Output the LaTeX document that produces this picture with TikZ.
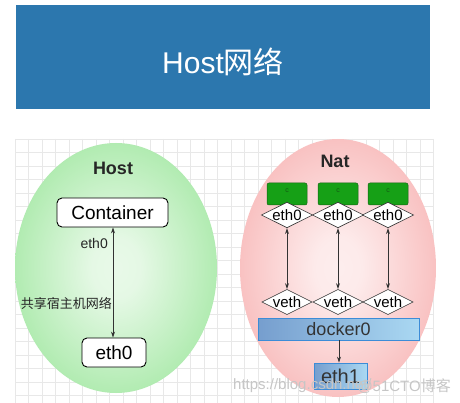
\documentclass[tikz,border=0pt]{standalone}
\usepackage{fontspec}
\setmainfont{Liberation Sans}
\newfontfamily\cjk{Noto Sans CJK SC}
\usetikzlibrary{arrows.meta,shapes.geometric}
\definecolor{bannerblue}{RGB}{44,119,174}
\definecolor{gridc}{RGB}{232,232,232}
\definecolor{gedge}{RGB}{132,222,132}
\definecolor{gmid}{RGB}{180,236,180}
\definecolor{pedge}{RGB}{244,152,152}
\definecolor{pmid}{RGB}{249,196,196}
\definecolor{boxgreen}{RGB}{22,160,22}
\definecolor{boxgreenborder}{RGB}{20,100,20}
\definecolor{ctext}{RGB}{20,90,20}
\definecolor{dleft}{RGB}{118,158,206}
\definecolor{dright}{RGB}{170,216,242}
\definecolor{dborder}{RGB}{60,140,215}
\definecolor{arrowc}{RGB}{50,50,50}
\pgfdeclareradialshading{greenball}{\pgfpoint{0bp}{0bp}}{color(0bp)=(white!70!gmid); color(6bp)=(white!65!gmid); color(24bp)=(gmid); color(42bp)=(gedge); color(50bp)=(gedge)}
\pgfdeclareradialshading{pinkball}{\pgfpoint{0bp}{0bp}}{color(0bp)=(white!70!pmid); color(6bp)=(white!65!pmid); color(24bp)=(pmid); color(42bp)=(pedge); color(50bp)=(pedge)}
\tikzset{
  rbox/.style={draw=black, line width=0.9pt, fill=white, rounded corners=5pt, inner sep=0pt, font=\fontsize{19}{19}\selectfont},
  cbox/.style={draw=boxgreenborder, line width=0.5pt, fill=boxgreen, rounded corners=2pt, minimum width=40pt, minimum height=22pt, inner sep=0pt},
  dia/.style={diamond, aspect=2, draw=black!80, line width=0.6pt, fill=white, inner sep=0pt, minimum width=50pt, minimum height=25pt, font=\fontsize{15}{15}\selectfont},
  biarrow/.style={draw=arrowc, line width=0.9pt, {Stealth[length=6pt,width=4pt]}-{Stealth[length=6pt,width=4pt]}},
  onearrow/.style={draw=arrowc, line width=0.9pt, -{Stealth[length=6pt,width=4pt]}},
  bluebar/.style={draw=dborder, line width=0.8pt, left color=dleft, right color=dright, inner sep=0pt, text=black!80},
  lbl/.style={inner sep=0pt, text=black!85},
  wm/.style={inner sep=0pt, text=gray!45, font=\fontsize{15}{15}\selectfont},
}
\begin{document}
\begin{tikzpicture}[x=1pt,y=-1pt]
\useasboundingbox (0,0) rectangle (460,403);
\fill[white] (0,0) rectangle (460,403);
% banner
\fill[bannerblue] (16,5) rectangle (430,109);
\node[text=white, font=\fontsize{30}{30}\selectfont, inner sep=0pt] (title) at (223,62) {Host{\cjk 网络}};
% grid background
\foreach \gx in {0,...,31}{ \draw[gridc, line width=0.6pt] (15+13.5*\gx,139) -- (15+13.5*\gx,403); }
\foreach \gy in {0,...,19}{ \draw[gridc, line width=0.6pt] (15,139+13.5*\gy) -- (434,139+13.5*\gy); }
% left ellipse
\shade[shading=greenball] (116,268) ellipse [x radius=101, y radius=125];
\node[font=\bfseries\fontsize{18}{18}\selectfont, lbl] (hostlbl) at (113,168) {Host};
\node[rbox, minimum width=111pt, minimum height=29pt] (container) at (112.5,212.5) {Container};
\node[rbox, minimum width=64pt, minimum height=29pt] (heth0) at (114,352.5) {eth0};
\draw[biarrow] (container.south -| 113,0) -- (heth0.north -| 113,0);
\node[lbl, font=\fontsize{14}{14}\selectfont, anchor=east] (e0lbl) at (108,243) {eth0};
\node[lbl, font=\cjk\fontsize{13}{13}\selectfont, anchor=east] (sharelbl) at (112,303) {共享宿主机网络};
% right ellipse
\shade[shading=pinkball] (338,268) ellipse [x radius=98, y radius=129];
\node[font=\bfseries\fontsize{18}{18}\selectfont, lbl] (natlbl) at (335,161) {Nat};
\foreach \i/\x in {1/287,2/338,3/388}{
  \node[cbox] (c\i) at (\x,194) {};
  \node[text=ctext, font=\fontsize{7}{7}\selectfont, inner sep=0pt] (ct\i) at (\x,191) {c};
  \node[dia] (e\i) at (\x,215) {eth0};
  \node[dia] (v\i) at (\x,302) {veth};
  \draw[biarrow] (e\i.south) -- (v\i.north);
}
\node[bluebar, minimum width=161pt, minimum height=22pt, font=\fontsize{18}{18}\selectfont] (docker) at (338.5,329) {docker0};
\node[bluebar, minimum width=53pt, minimum height=26pt, font=\fontsize{20}{20}\selectfont] (eth1) at (340.5,376) {eth1};
\draw[onearrow] (docker.south -| 339,0) -- (eth1.north -| 339,0);
% watermark
\node[wm, anchor=west] (wm1) at (233,386) {https://blog.csdn.net/};
\node[wm, anchor=east] (wm2) at (451,386) {@51CTO{\cjk 博客}};
\end{tikzpicture}
\end{document}
